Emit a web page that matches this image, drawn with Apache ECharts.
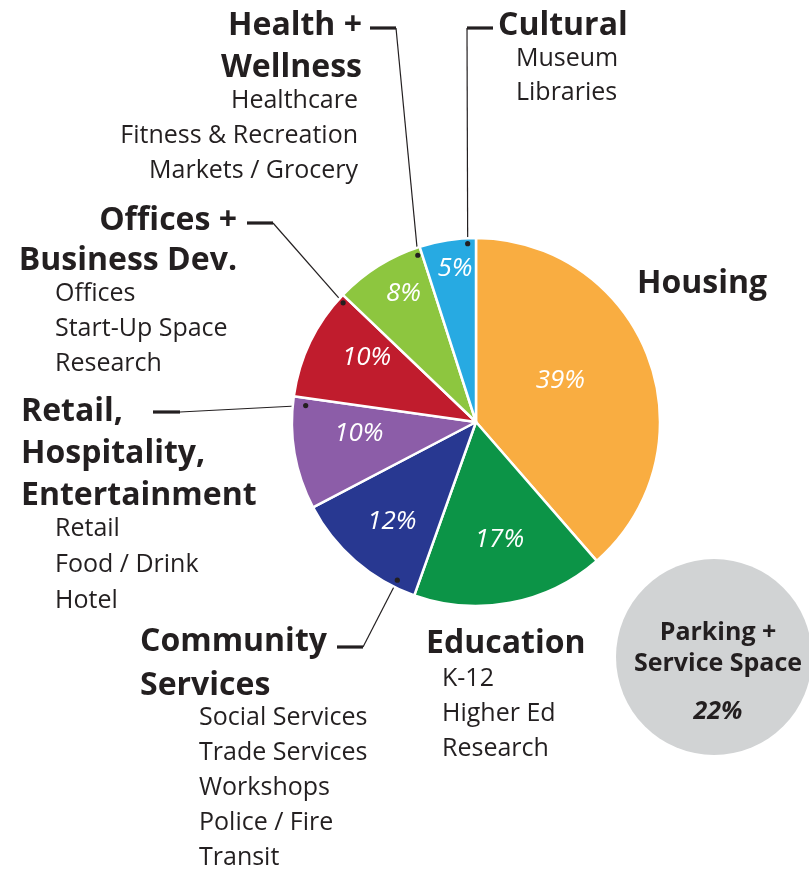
<!DOCTYPE html>
<html>
<head>
<meta charset="utf-8">
<script src="https://cdn.jsdelivr.net/npm/echarts@6/dist/echarts.min.js"></script>
<style>
  html, body { margin: 0; padding: 0; background: #ffffff; }
  #chart { width: 809px; height: 870px; }
</style>
</head>
<body>
<div id="chart"></div>
<script>
// ---- data ----
const categories = ['Housing', 'Education', 'Community Services', 'Retail, Hospitality, Entertainment',
                    'Offices + Business Dev.', 'Health + Wellness', 'Cultural'];
const shares = [39, 17, 12, 10, 10, 8, 5];
const titleLines = [
  ['Housing'],
  ['Education'],
  ['Community', 'Services'],
  ['Retail,', 'Hospitality,', 'Entertainment'],
  ['Offices +', 'Business Dev.'],
  ['Health +', 'Wellness'],
  ['Cultural']
];
const subItems = [
  [],
  ['K-12', 'Higher Ed', 'Research'],
  ['Social Services', 'Trade Services', 'Workshops', 'Police / Fire', 'Transit'],
  ['Retail', 'Food / Drink', 'Hotel'],
  ['Offices', 'Start-Up Space', 'Research'],
  ['Healthcare', 'Fitness & Recreation', 'Markets / Grocery'],
  ['Museum', 'Libraries']
];
const parkingLines = ['Parking +', 'Service Space'];
const parkingShare = 22;

// ---- styling ----
const sliceColors = ['#F9AD41', '#0C9447', '#283891', '#8C5DA8', '#C01C2D', '#8DC63F', '#27AAE2'];
const INK = '#231F20';
const FONT = '"Open Sans", "Noto Sans", sans-serif';
const TITLE_SIZE = 32, SUB_SIZE = 25;

// where each in-slice percentage sits: fraction across the slice, fraction of radius
const pctPlace = [[0.46, 0.51], [0.49, 0.65], [0.48, 0.71], [0.62, 0.64], [0.63, 0.69], [0.59, 0.80], [0.56, 0.84]];

// text block placement: title x/align/first baseline/line step, list x/align/first baseline/line step
const blocks = [
  { tx: 637, ta: 'left',  tb: 295, ts: 42, sx: 0,   sa: 'left',  sb: 0,   ss: 35 },
  { tx: 426, ta: 'left',  tb: 655, ts: 42, sx: 442, sa: 'left',  sb: 688, ss: 35 },
  { tx: 140, ta: 'left',  tb: 653, ts: 44, sx: 199, sa: 'left',  sb: 727, ss: 35 },
  { tx: 21,  ta: 'left',  tb: 423, ts: 42, sx: 55,  sa: 'left',  sb: 538, ss: 36 },
  { tx: 237, ta: 'right', tb: 232, ts: 40, sx: 55,  sa: 'left',  sb: 303, ss: 35 },
  { tx: 362, ta: 'right', tb: 37,  ts: 42, sx: 358, sa: 'right', sb: 110, ss: 35 },
  { tx: 498, ta: 'left',  tb: 37,  ts: 42, sx: 516, sa: 'left',  sb: 68,  ss: 34 }
];

// leader lines: short heavy dash [x1, x2, y], the end the thin line leaves from,
// and the anchor inside the slice (fraction across slice, fraction of radius)
const leaders = [
  null,
  null,
  { dash: [337, 363, 647], from: 363, at: [0.16, 0.96] },
  { dash: [153, 180, 412], from: 180, at: [0.93, 0.93] },
  { dash: [247, 273, 223], from: 273, at: [0.95, 0.97] },
  { dash: [370, 396, 28],  from: 396, at: [0.95, 0.96] },
  { dash: [467, 493, 28],  from: 467, at: [0.85, 0.97] }
];

const chart = echarts.init(document.getElementById('chart'), null, { renderer: 'canvas' });

const pieData = categories.map((name, i) => ({ name: name, value: shares[i], itemStyle: { color: sliceColors[i] } }));

const baseOption = {
  animation: false,
  backgroundColor: '#ffffff',
  series: [
    {
      type: 'pie',
      center: [476, 422],
      radius: 184,
      startAngle: 90,
      clockwise: true,
      avoidLabelOverlap: false,
      silent: true,
      itemStyle: { borderColor: '#ffffff', borderWidth: 2.5 },
      label: {
        show: true,
        position: 'inside',
        formatter: '{c}%',
        color: '#ffffff',
        fontFamily: FONT,
        fontStyle: 'italic',
        fontSize: 26
      },
      labelLine: { show: false },
      emphasis: { disabled: true },
      data: pieData
    },
    {
      type: 'pie',
      center: [714, 657],
      radius: 98,
      silent: true,
      label: {
        show: true,
        position: 'center',
        padding: [48, 0, 0, 8],
        formatter: function (p) {
          return parkingLines.map(l => '{t|' + l + '}').join('\n') + '\n{p|' + p.value + '%}';
        },
        rich: {
          t: { fontFamily: FONT, fontWeight: 'bold', fontSize: 25, lineHeight: 31, color: INK },
          p: { fontFamily: FONT, fontWeight: 'bold', fontStyle: 'italic', fontSize: 25, lineHeight: 66, color: INK }
        }
      },
      labelLine: { show: false },
      emphasis: { disabled: true },
      data: [{ name: parkingLines.join(' '), value: parkingShare, itemStyle: { color: '#D1D3D4' } }]
    }
  ]
};

chart.setOption(baseOption);

// point inside slice i, using the slice geometry the pie series laid out
const pieLayouts = chart.getModel().getSeriesByIndex(0).getData();
function slicePoint(i, t, rf) {
  const l = pieLayouts.getItemLayout(i);
  const a = l.startAngle + (l.endAngle - l.startAngle) * t;
  return [l.cx + l.r * rf * Math.cos(a), l.cy + l.r * rf * Math.sin(a)];
}

const pctPos = pctPlace.map((p, i) => slicePoint(i, p[0], p[1]));

function textBlock(lines, x, baseline, align, weight, size, step) {
  return {
    type: 'text',
    silent: true,
    style: {
      text: lines.join('\n'),
      x: x,
      y: baseline - step / 2 - 0.35 * size,
      textAlign: align,
      textVerticalAlign: 'top',
      font: weight + ' ' + size + 'px ' + FONT,
      lineHeight: step,
      fill: INK
    }
  };
}

const graphics = [];
blocks.forEach((b, i) => {
  graphics.push(textBlock(titleLines[i], b.tx, b.tb, b.ta, 'bold', TITLE_SIZE, b.ts));
  if (subItems[i].length) {
    graphics.push(textBlock(subItems[i], b.sx, b.sb, b.sa, 'normal', SUB_SIZE, b.ss));
  }
});
leaders.forEach((ld, i) => {
  if (!ld) return;
  const end = slicePoint(i, ld.at[0], ld.at[1]);
  graphics.push({
    type: 'line', silent: true,
    shape: { x1: ld.dash[0], y1: ld.dash[2], x2: ld.dash[1], y2: ld.dash[2] },
    style: { stroke: INK, lineWidth: 3.2 }
  });
  graphics.push({
    type: 'polyline', silent: true,
    shape: { points: [[ld.from, ld.dash[2]], end] },
    style: { stroke: INK, lineWidth: 1.2, fill: null }
  });
  graphics.push({
    type: 'circle', silent: true, z: 100,
    shape: { cx: end[0], cy: end[1], r: 2.6 },
    style: { fill: INK }
  });
});

chart.setOption({
  graphic: graphics,
  series: [{
    labelLayout: function (params) {
      const p = pctPos[params.dataIndex];
      return { x: p[0], y: p[1], align: 'center', verticalAlign: 'middle' };
    }
  }]
});
</script>
</body>
</html>
